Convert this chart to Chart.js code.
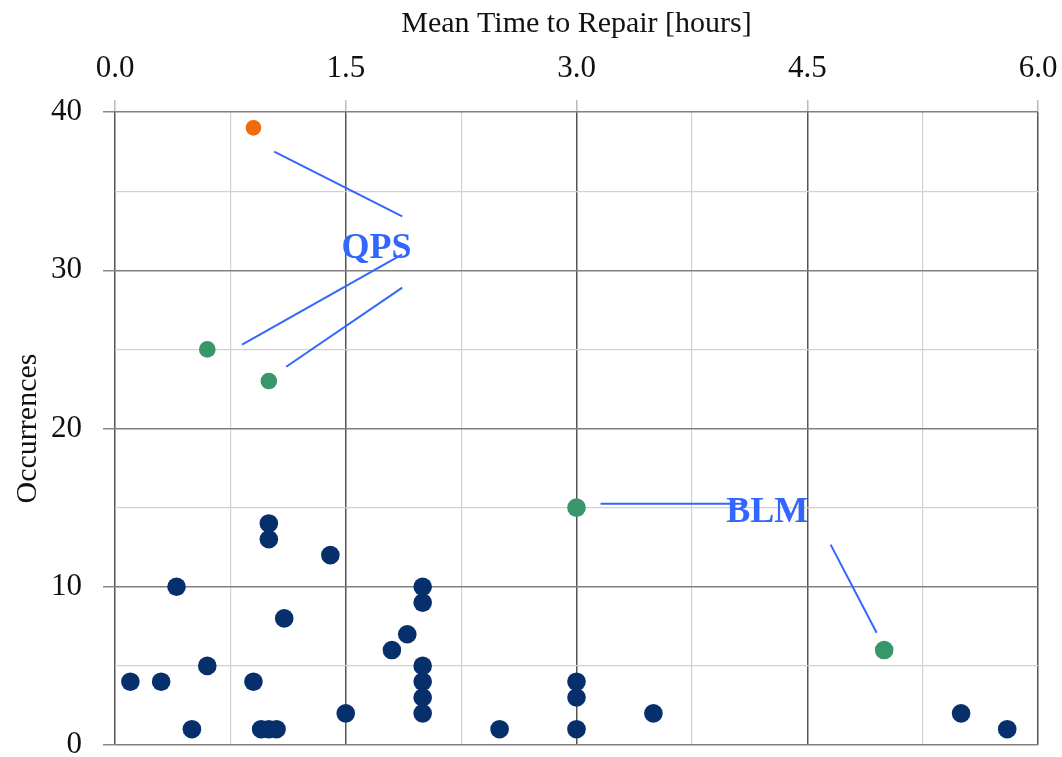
<!DOCTYPE html>
<html>
<head>
<meta charset="utf-8">
<script src="https://cdn.jsdelivr.net/npm/chart.js@4/dist/chart.umd.min.js"></script>
<style>
  html, body { margin: 0; padding: 0; background: #ffffff; }
  #wrap { width: 1062px; height: 757px; }
</style>
</head>
<body>
<div id="wrap"><canvas id="c" width="1062" height="757"></canvas></div>
<script>
// ---- data ----
const otherX = [0.1, 0.3, 0.4, 0.5, 0.6, 0.9, 0.95, 1.0, 1.05, 1.0, 1.0, 1.1, 1.4, 1.5, 1.8, 1.9, 2.0, 2.0, 2.0, 2.0, 2.0, 2.0, 2.5, 3.0, 3.0, 3.0, 3.5, 5.5, 5.8];
const otherY = [4,   4,   10,  1,   5,   4,   1,    1,   1,    14,  13,  8,   12,  2,   6,   7,   10,  9,   5,   4,   3,   2,   1,   4,   3,   1,   2,   2,   1];
const qpsX = [0.6, 1.0];
const qpsY = [25, 23];
const blmX = [3.0, 5.0];
const blmY = [15, 6];
const topX = [0.9];
const topY = [39];

const xTickLabels = ['0.0', '1.5', '3.0', '4.5', '6.0'];
const yTickLabels = ['0', '10', '20', '30', '40'];

// annotation leader lines (data space): [x1, y1, x2, y2]
const qpsLeaders = [
  [1.035, 37.5, 1.867, 33.4],
  [0.826, 25.3, 1.867, 31.0],
  [1.113, 23.9, 1.867, 28.9]
];
const blmLeaders = [
  [3.156, 15.25, 4.10, 15.25],
  [4.652, 12.66, 4.951, 7.09]
];
const labelNames = ['QPS', 'BLM'];
const labelX = [1.70, 4.24];
const labelY = [31.35, 14.65];

// ---- build ----
const toPts = (xs, ys) => xs.map((x, i) => ({ x: x, y: ys[i] }));
const FONT = "'Liberation Serif', 'DejaVu Serif', serif";
const BLUE = '#3366ff';

const leaderSets = qpsLeaders.concat(blmLeaders).map(l => ({
  type: 'line',
  data: [{ x: l[0], y: l[1] }, { x: l[2], y: l[3] }],
  borderColor: BLUE,
  borderWidth: 2,
  pointRadius: 0,
  fill: false,
  showLine: true,
  order: 0
}));

const labelPlugin = {
  id: 'textLabels',
  afterDatasetsDraw(chart) {
    const ctx = chart.ctx;
    const xs = chart.scales.x, ys = chart.scales.y;
    ctx.save();
    ctx.fillStyle = BLUE;
    ctx.font = "bold 36px " + FONT;
    ctx.textAlign = 'center';
    ctx.textBaseline = 'middle';
    labelNames.forEach((t, i) => {
      ctx.fillText(t, xs.getPixelForValue(labelX[i]), ys.getPixelForValue(labelY[i]));
    });
    ctx.restore();
  }
};

const bgPlugin = {
  id: 'bg',
  beforeDraw(chart) {
    const ctx = chart.ctx;
    ctx.save();
    ctx.fillStyle = '#ffffff';
    ctx.fillRect(0, 0, chart.width, chart.height);
    ctx.restore();
  }
};

const isMajorX = v => Math.abs(v / 1.5 - Math.round(v / 1.5)) < 1e-6;
const isMajorY = v => Math.abs(v / 10 - Math.round(v / 10)) < 1e-6;

new Chart(document.getElementById('c'), {
  type: 'scatter',
  data: {
    datasets: [
      { data: toPts(otherX, otherY), backgroundColor: '#062f6b', borderWidth: 0, pointRadius: 9.3, order: 3 },
      { data: toPts(qpsX, qpsY), backgroundColor: '#37966a', borderWidth: 0, pointRadius: 8.3, order: 2 },
      { data: toPts(blmX, blmY), backgroundColor: '#37966a', borderWidth: 0, pointRadius: 9.3, order: 2 },
      { data: toPts(topX, topY), backgroundColor: '#f26a10', borderWidth: 0, pointRadius: 7.8, order: 2 }
    ].concat(leaderSets)
  },
  options: {
    responsive: false,
    animation: false,
    events: [],
    layout: { padding: { left: 0, right: 24, top: 0, bottom: 12 } },
    plugins: { legend: { display: false }, tooltip: { enabled: false } },
    scales: {
      x: {
        type: 'linear',
        position: 'top',
        min: 0, max: 6,
        afterBuildTicks(scale) {
          const t = [];
          for (let i = 0; i <= 8; i++) t.push({ value: i * 0.75 });
          scale.ticks = t;
        },
        afterFit(scale) { scale.height = 112; scale.paddingLeft = 0; scale.paddingRight = 0; },
        ticks: {
          font: { family: FONT, size: 31 },
          color: '#111',
          padding: 13,
          maxRotation: 0,
          autoSkip: false,
          callback: (v) => isMajorX(v) ? xTickLabels[Math.round(v / 1.5)] : ''
        },
        grid: {
          drawTicks: true,
          tickLength: 12,
          lineWidth: (c) => isMajorX(c.tick.value) ? 1.5 : 1.2,
          color: (c) => isMajorX(c.tick.value) ? '#555555' : '#d2d2d2',
          tickColor: (c) => isMajorX(c.tick.value) ? '#bbbbbb' : 'rgba(0,0,0,0)'
        },
        border: { display: false },
        title: {
          display: true,
          text: 'Mean Time to Repair [hours]',
          font: { family: FONT, size: 30 },
          color: '#111',
          padding: { top: 6, bottom: 0 }
        }
      },
      y: {
        type: 'linear',
        min: 0, max: 40,
        afterBuildTicks(scale) {
          const t = [];
          for (let i = 0; i <= 8; i++) t.push({ value: i * 5 });
          scale.ticks = t;
        },
        afterFit(scale) { scale.width = 115; scale.paddingTop = 0; scale.paddingBottom = 0; },
        ticks: {
          font: { family: FONT, size: 31 },
          color: '#111',
          padding: 21,
          autoSkip: false,
          callback: (v) => isMajorY(v) ? yTickLabels[Math.round(v / 10)] : ''
        },
        grid: {
          drawTicks: true,
          tickLength: 12,
          lineWidth: (c) => isMajorY(c.tick.value) ? 1.5 : 1.2,
          color: (c) => isMajorY(c.tick.value) ? '#808080' : '#d2d2d2',
          tickColor: (c) => isMajorY(c.tick.value) ? '#888888' : 'rgba(0,0,0,0)'
        },
        border: { display: false },
        title: {
          display: true,
          text: 'Occurrences',
          font: { family: FONT, size: 30 },
          color: '#111',
          padding: { top: 10, bottom: 0 }
        }
      }
    }
  },
  plugins: [bgPlugin, labelPlugin]
});
</script>
</body>
</html>
